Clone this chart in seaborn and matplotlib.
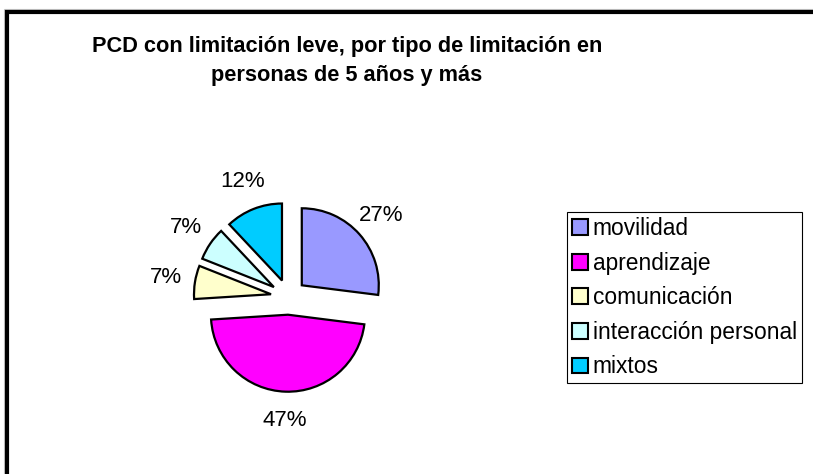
import matplotlib
matplotlib.use('Agg')
import matplotlib.pyplot as plt
from matplotlib.patches import Patch, Rectangle
import seaborn as sns

title = 'PCD con limitación leve, por tipo de limitación en\npersonas de 5 años y más'
categories = ['movilidad', 'aprendizaje', 'comunicación', 'interacción personal', 'mixtos']
shares = [27, 47, 7, 7, 12]
colors = ['#9999FF', '#FF00FF', '#FFFFCC', '#CCFFFF', '#00CCFF']


def main():
    sns.set_theme(style='white')
    plt.rcParams['font.family'] = ['Liberation Sans', 'DejaVu Sans']
    plt.rcParams['text.color'] = 'black'

    W, H = 813, 474
    fig = plt.figure(figsize=(W / 100, H / 100), dpi=100)
    fig.patch.set_facecolor('white')

    # chart frame (right/bottom edges fall outside the picture)
    fig.patches.append(Rectangle((4 / W, -0.1), 1.2, 1 - 9 / H + 0.1, transform=fig.transFigure,
                                 fill=False, edgecolor='#c8c8c8', linewidth=0.8))
    fig.patches.append(Rectangle((7 / W, -0.1), 1.2, 1 - 12 / H + 0.1, transform=fig.transFigure,
                                 fill=False, edgecolor='black', linewidth=3.0))

    # pie: radius 77 px, centre at (288.5, 297) px
    size = 231
    cx, cy = 288.5, H - 297
    ax = fig.add_axes([(cx - size / 2) / W, (cy - size / 2) / H, size / W, size / H])
    ax.pie(shares, colors=colors, startangle=90, counterclock=False,
           explode=[0.23] * len(shares), autopct='%1.0f%%', pctdistance=1.38,
           wedgeprops={'edgecolor': 'black', 'linewidth': 1.6},
           textprops={'fontsize': 16, 'color': 'black'})
    ax.set_xlim(-1.5, 1.5)
    ax.set_ylim(-1.5, 1.5)
    ax.set_aspect('equal')
    ax.axis('off')

    fig.text(347 / W, 1 - 61 / H, title, ha='center', va='center', fontsize=15.7,
             fontweight='bold', linespacing=1.45, color='black')

    handles = [Patch(facecolor=c, edgecolor='black', linewidth=1.5) for c in colors]
    leg = fig.legend(handles, categories, loc='upper left', bbox_to_anchor=(567 / W, 1 - 212 / H),
                     bbox_transform=fig.transFigure, fontsize=16.4, frameon=True, fancybox=False,
                     edgecolor='black', framealpha=1, borderpad=0.22, labelspacing=0.51,
                     handlelength=0.7, handleheight=0.7, handletextpad=0.2, borderaxespad=0)
    leg.get_frame().set_linewidth(0.8)
    for t in leg.get_texts():
        t.set_color('black')

    fig.savefig('out.png', dpi=100, facecolor='white')


if __name__ == '__main__':
    main()
